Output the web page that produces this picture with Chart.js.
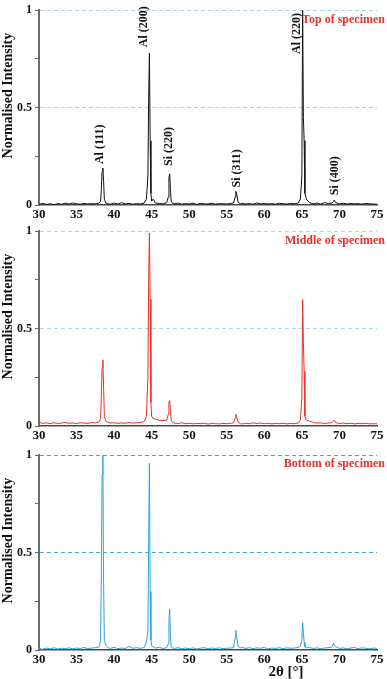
<!DOCTYPE html>
<html>
<head>
<meta charset="utf-8">
<script src="https://cdn.jsdelivr.net/npm/chart.js@4.4.0/dist/chart.umd.min.js"></script>
<style>
  body { margin: 0; background: #fff; }
  canvas { position: absolute; left: 0; }
</style>
</head>
<body>
<canvas id="topChart" width="387" height="222" style="top:0px"></canvas>
<canvas id="middleChart" width="387" height="222" style="top:221px"></canvas>
<canvas id="bottomChart" width="387" height="234" style="top:445px"></canvas>
<script>
// 2theta positions (deg), shared by all three scans
const twoTheta = [
  30, 30.5, 31, 31.5, 32, 32.5, 33, 33.5, 34, 34.5, 35, 35.5, 36, 36.5, 37, 37.5, 38,
  38.2, 38.3, 38.4, 38.5, 38.6, 38.7, 38.9,
  39.2, 39.5, 40, 40.5, 41, 41.5, 42, 42.5, 43, 43.5, 44, 44.3,
  44.5, 44.6, 44.7, 44.8, 44.9, 45.0, 45.2,
  45.5, 46, 46.5, 47.0,
  47.2, 47.3, 47.4, 47.5, 47.6, 47.8,
  48, 48.5, 49, 49.5, 50, 50.5, 51, 51.5, 52, 52.5, 53, 53.5, 54, 54.5, 55, 55.5, 55.9,
  56.1, 56.2, 56.3, 56.5,
  56.8, 57, 57.5, 58, 58.5, 59, 59.5, 60, 60.5, 61, 61.5, 62, 62.5, 63, 63.5, 64, 64.5, 64.8,
  65.0, 65.1, 65.2, 65.3, 65.4, 65.6,
  66, 66.5, 67, 67.5, 68, 68.5, 69.0,
  69.2, 69.3, 69.5,
  69.8, 70, 70.5, 71, 71.5, 72, 72.5, 73, 73.5, 74, 74.5, 75
];

const topIntensity = [
  0.004, 0.008, 0.003, 0.006, 0.002, 0.007, 0.004, 0.009, 0.005, 0.010, 0.006, 0.004, 0.008, 0.005, 0.007, 0.006, 0.010,
  0.02, 0.08, 0.17, 0.19, 0.12, 0.03, 0.010,
  0.006, 0.004, 0.010, 0.005, 0.012, 0.006, 0.008, 0.004, 0.007, 0.005, 0.010, 0.03,
  0.15, 0.55, 0.78, 0.33, 0.06, 0.02, 0.03,
  0.010, 0.008, 0.006, 0.012,
  0.04, 0.14, 0.16, 0.08, 0.02, 0.008,
  0.006, 0.010, 0.004, 0.007, 0.005, 0.009, 0.003, 0.008, 0.006, 0.005, 0.009, 0.004, 0.007, 0.006, 0.005, 0.008, 0.010,
  0.04, 0.07, 0.06, 0.015,
  0.006, 0.009, 0.005, 0.007, 0.004, 0.010, 0.006, 0.008, 0.005, 0.007, 0.004, 0.009, 0.006, 0.005, 0.008, 0.006, 0.010, 0.03,
  0.15, 1.0, 0.45, 0.33, 0.06, 0.03,
  0.012, 0.006, 0.010, 0.005, 0.012, 0.008, 0.010,
  0.018, 0.025, 0.012,
  0.008, 0.006, 0.009, 0.005, 0.008, 0.006, 0.007, 0.004, 0.008, 0.006, 0.005, 0.004
];

const middleIntensity = [
  0.018, 0.014, 0.016, 0.012, 0.017, 0.013, 0.015, 0.018, 0.014, 0.016, 0.012, 0.017, 0.015, 0.013, 0.018, 0.016, 0.020,
  0.04, 0.15, 0.30, 0.34, 0.20, 0.05, 0.025,
  0.018, 0.015, 0.017, 0.013, 0.016, 0.014, 0.018, 0.015, 0.017, 0.019, 0.022, 0.05,
  0.25, 0.75, 0.99, 0.65, 0.12, 0.05, 0.04,
  0.035, 0.030, 0.028, 0.03,
  0.06, 0.12, 0.13, 0.08, 0.03, 0.018,
  0.015, 0.013, 0.016, 0.012, 0.014, 0.011, 0.013, 0.012, 0.014, 0.010, 0.013, 0.012, 0.011, 0.013, 0.012, 0.014, 0.016,
  0.04, 0.06, 0.05, 0.02,
  0.012, 0.011, 0.013, 0.012, 0.016, 0.013, 0.015, 0.012, 0.014, 0.011, 0.013, 0.012, 0.014, 0.011, 0.013, 0.012, 0.015, 0.03,
  0.15, 0.65, 0.43, 0.28, 0.05, 0.03,
  0.025, 0.018, 0.015, 0.016, 0.013, 0.015, 0.017,
  0.025, 0.03, 0.018,
  0.014, 0.013, 0.015, 0.012, 0.014, 0.011, 0.013, 0.012, 0.014, 0.011, 0.012, 0.011
];

const bottomIntensity = [
  0.008, 0.004, 0.010, 0.006, 0.012, 0.005, 0.009, 0.007, 0.011, 0.006, 0.010, 0.008, 0.013, 0.007, 0.010, 0.012, 0.015,
  0.05, 0.40, 0.90, 1.0, 0.35, 0.05, 0.025,
  0.012, 0.008, 0.014, 0.007, 0.010, 0.008, 0.018, 0.009, 0.012, 0.008, 0.013, 0.04,
  0.10, 0.55, 0.96, 0.30, 0.05, 0.02, 0.015,
  0.010, 0.014, 0.008, 0.012,
  0.03, 0.15, 0.21, 0.07, 0.015, 0.010,
  0.008, 0.012, 0.006, 0.010, 0.007, 0.011, 0.005, 0.009, 0.012, 0.006, 0.010, 0.008, 0.011, 0.007, 0.009, 0.010, 0.012,
  0.06, 0.10, 0.07, 0.02,
  0.010, 0.014, 0.008, 0.012, 0.007, 0.011, 0.009, 0.013, 0.006, 0.010, 0.008, 0.012, 0.007, 0.011, 0.009, 0.010, 0.013, 0.02,
  0.05, 0.14, 0.09, 0.04, 0.015, 0.012,
  0.012, 0.008, 0.011, 0.007, 0.010, 0.012, 0.015,
  0.035, 0.025, 0.018,
  0.012, 0.008, 0.011, 0.006, 0.010, 0.013, 0.007, 0.011, 0.009, 0.006, 0.010, 0.008
];

const xTicks = [30, 35, 40, 45, 50, 55, 60, 65, 70, 75];
const yTickLabels = { 0: '0', 0.5: '0.5', 1: '1' };

const peakNames = ['Al (111)', 'Al (200)', 'Si (220)', 'Si (311)', 'Al (220)', 'Si (400)'];
const peakNameAt = [[38.13, 0.21], [44.0, 0.81], [47.33, 0.20], [56.36, 0.09], [64.36, 0.775], [69.33, 0.05]];

const SERIF = '"Liberation Serif", "Times New Roman", serif';

// labels, axis titles etc. drawn on top of each panel
function overlayPlugin(opts) {
    return {
        id: 'overlay',
        afterDraw(chart) {
            const ctx = chart.ctx;
            const area = chart.chartArea;
            const xs = chart.scales.x, ys = chart.scales.y;
            ctx.save();

            // y axis title
            ctx.fillStyle = '#111';
            ctx.font = 'bold 14px ' + SERIF;
            ctx.textAlign = 'center';
            ctx.textBaseline = 'middle';
            ctx.translate(8, (area.top + area.bottom) / 2 - 12);
            ctx.rotate(-Math.PI / 2);
            ctx.fillText('Normalised Intensity', 0, 0);
            ctx.setTransform(1, 0, 0, 1, 0, 0);

            // panel name
            ctx.fillStyle = '#e8302a';
            ctx.font = 'bold 12px ' + SERIF;
            ctx.textAlign = 'right';
            ctx.fillText(opts.name, 385, area.top + opts.nameDy);

            if (opts.peaks) {
                ctx.fillStyle = '#111';
                ctx.font = 'bold 12px ' + SERIF;
                ctx.textAlign = 'left';
                peakNames.forEach((txt, i) => {
                    ctx.save();
                    ctx.translate(xs.getPixelForValue(peakNameAt[i][0]), ys.getPixelForValue(peakNameAt[i][1]));
                    ctx.rotate(-Math.PI / 2);
                    ctx.fillText(txt, 0, 0);
                    ctx.restore();
                });
            }

            if (opts.xTitle) {
                ctx.fillStyle = '#111';
                ctx.font = 'bold 15px ' + SERIF;
                ctx.textAlign = 'center';
                ctx.fillText('2θ [°]', 286, area.bottom + 22);
            }
            ctx.restore();
        }
    };
}

function makeChart(id, values, color, gridColor, xHeight, overlay) {
    const points = twoTheta.map((t, i) => ({ x: t, y: values[i] }));
    return new Chart(document.getElementById(id), {
        type: 'line',
        data: {
            datasets: [{
                data: points,
                borderColor: color,
                borderWidth: 1,
                pointRadius: 0,
                tension: 0
            }]
        },
        options: {
            responsive: false,
            devicePixelRatio: 1,
            animation: false,
            layout: { padding: { left: 0, right: 10, top: 5, bottom: 0 } },
            plugins: { legend: { display: false }, tooltip: { enabled: false } },
            scales: {
                x: {
                    type: 'linear',
                    min: 30,
                    max: 75,
                    afterBuildTicks: (scale) => { scale.ticks = xTicks.map(v => ({ value: v })); },
                    afterFit: (scale) => { scale.height = xHeight; },
                    grid: { drawOnChartArea: false, drawTicks: false },
                    border: { color: '#4a4a4a', width: 1.5 },
                    ticks: {
                        padding: 2,
                        color: '#111',
                        maxRotation: 0,
                        font: { family: SERIF, size: 13, weight: 'bold' }
                    }
                },
                y: {
                    min: 0,
                    max: 1,
                    afterFit: (scale) => { scale.width = 39; },
                    grid: {
                        color: (c) => (c.tick.value === 0.5 || c.tick.value === 1) ? gridColor : 'rgba(0,0,0,0)',
                        tickColor: '#666',
                        tickLength: 4
                    },
                    border: { color: '#6b6b6b', width: 2, dash: [4, 3] },
                    ticks: {
                        stepSize: 0.25,
                        padding: 3,
                        color: '#111',
                        font: { family: SERIF, size: 12, weight: 'bold' },
                        callback: (v) => yTickLabels[v] || ''
                    }
                }
            }
        },
        plugins: [overlayPlugin(overlay)]
    });
}

makeChart('topChart', topIntensity, '#111111', '#a9d7ef', 17,
    { name: 'Top of specimen', nameDy: 10, peaks: true });
makeChart('middleChart', middleIntensity, '#e8302a', '#a9d7ef', 17,
    { name: 'Middle of specimen', nameDy: 10 });
makeChart('bottomChart', bottomIntensity, '#2aa5da', '#3aaadd', 29,
    { name: 'Bottom of specimen', nameDy: 9, xTitle: true });
</script>
</body>
</html>
